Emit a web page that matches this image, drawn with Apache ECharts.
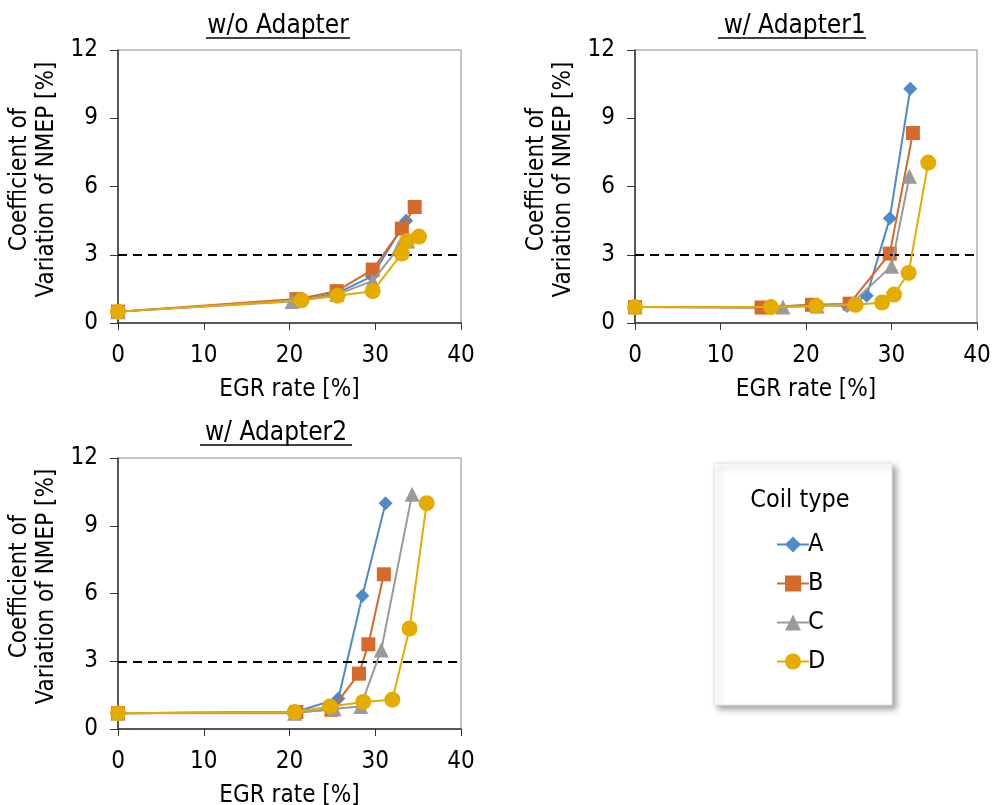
<!DOCTYPE html>
<html>
<head>
<meta charset="utf-8">
<script src="https://cdn.jsdelivr.net/npm/echarts@6/dist/echarts.min.js"></script>
<style>
  html, body { margin: 0; padding: 0; background: #fff; }
  #chart { width: 996px; height: 805px; }
</style>
</head>
<body>
<div id="chart"></div>
<script>
// Coefficient of variation of NMEP vs EGR rate, per coil type, for three adapter setups.
// Each point: [EGR rate %, COV of NMEP %]
const coilNames = ['A', 'B', 'C', 'D'];
const panelTitles = ['w/o Adapter', '\u00a0w/ Adapter1', 'w/ Adapter2'];

const noAdapter_A = [[0, 0.5], [21.0, 1.0], [25.5, 1.3], [29.6, 2.05], [33.6, 4.5]];
const noAdapter_B = [[0, 0.5], [20.8, 1.05], [25.5, 1.4], [29.7, 2.35], [33.1, 4.15], [34.6, 5.1]];
const noAdapter_C = [[0, 0.5], [20.3, 0.95], [25.5, 1.25], [29.7, 1.85], [32.8, 3.35], [33.8, 3.6]];
const noAdapter_D = [[0, 0.5], [21.4, 1.0], [25.6, 1.2], [29.7, 1.4], [33.1, 3.05], [33.7, 3.6], [35.1, 3.8]];

const adapter1_A = [[0, 0.7], [15.0, 0.68], [20.8, 0.8], [24.8, 0.75], [27.1, 1.2], [29.8, 4.6], [32.2, 10.3]];
const adapter1_B = [[0, 0.7], [14.8, 0.68], [20.7, 0.8], [25.1, 0.85], [29.8, 3.05], [32.5, 8.35]];
const adapter1_C = [[0, 0.7], [17.3, 0.7], [21.3, 0.75], [25.3, 0.85], [30.0, 2.5], [32.1, 6.45]];
const adapter1_D = [[0, 0.7], [15.9, 0.7], [21.2, 0.75], [25.8, 0.8], [28.9, 0.9], [30.3, 1.25], [32.0, 2.2], [34.3, 7.05]];

const adapter2_A = [[0, 0.7], [20.7, 0.75], [25.7, 1.35], [28.5, 5.9], [31.2, 10.0]];
const adapter2_B = [[0, 0.7], [20.8, 0.75], [24.9, 0.85], [28.1, 2.45], [29.2, 3.75], [31.0, 6.85]];
const adapter2_C = [[0, 0.7], [20.6, 0.7], [25.2, 0.9], [28.3, 1.0], [30.7, 3.5], [34.3, 10.4]];
const adapter2_D = [[0, 0.7], [20.6, 0.75], [24.7, 1.0], [28.6, 1.2], [32.0, 1.3], [34.0, 4.45], [36.0, 10.0]];

const xTicks = [0, 10, 20, 30, 40];
const yTicks = [0, 3, 6, 9, 12];
const covLimit = 3;

const panels = [
  [noAdapter_A, noAdapter_B, noAdapter_C, noAdapter_D],
  [adapter1_A, adapter1_B, adapter1_C, adapter1_D],
  [adapter2_A, adapter2_B, adapter2_C, adapter2_D]
];

const FONT = "'DejaVu Sans Condensed', 'DejaVu Sans', sans-serif";
const FS = 24;
const FS_TITLE = 26;
const FS_LEGEND = 25;
const colors = ['#4F8AC9', '#D56A2B', '#9A9A9A', '#E5AC00'];
const symbols = ['diamond', 'rect', 'triangle', 'circle'];
const symbolSizes = [14, 14, 15, 16];

const grids = [
  { left: 118, right: 535, top: 50, bottom: 482 },
  { left: 635, right: 19, top: 50, bottom: 482 },
  { left: 118, right: 535, top: 458, bottom: 76 }
];

const xAxes = grids.map((g, i) => ({
  type: 'value', gridIndex: i,
  min: xTicks[0], max: xTicks[xTicks.length - 1], interval: xTicks[1] - xTicks[0],
  name: 'EGR rate [%]', nameLocation: 'middle', nameGap: 55,
  nameTextStyle: { fontFamily: FONT, fontSize: FS, color: '#000' },
  axisLine: { show: true, onZero: false, lineStyle: { color: '#333', width: 1.5 } },
  axisTick: { show: true, inside: false, length: 7, lineStyle: { color: '#333' } },
  axisLabel: { fontFamily: FONT, fontSize: FS, color: '#000', margin: 21 },
  splitLine: { show: false }
}));

const yAxes = grids.map((g, i) => ({
  type: 'value', gridIndex: i,
  min: yTicks[0], max: yTicks[yTicks.length - 1], interval: yTicks[1] - yTicks[0],
  name: 'Coefficient of\nVariation of NMEP [%]', nameLocation: 'middle', nameGap: 58,
  nameTextStyle: { fontFamily: FONT, fontSize: FS, color: '#000', lineHeight: 27, padding: [0, 0, 0, 14] },
  axisLine: { show: true, onZero: false, lineStyle: { color: '#333', width: 1.5 } },
  axisTick: { show: true, inside: false, length: 8, lineStyle: { color: '#333' } },
  axisLabel: { fontFamily: FONT, fontSize: FS, color: '#000', margin: 20 },
  splitLine: { show: false }
}));

const series = [];
panels.forEach((panel, p) => {
  panel.forEach((data, k) => {
    const s = {
      type: 'line', name: coilNames[k], xAxisIndex: p, yAxisIndex: p,
      data: data,
      symbol: symbols[k], symbolSize: symbolSizes[k],
      showAllSymbol: true,
      lineStyle: { color: colors[k], width: 2 },
      itemStyle: { color: colors[k] },
      z: 3 + k,
      animation: false
    };
    if (k === 0) {
      s.markLine = {
        silent: true, symbol: 'none', label: { show: false },
        lineStyle: { color: '#000', type: [9, 6], width: 2 },
        data: [{ yAxis: covLimit }]
      };
    }
    series.push(s);
  });
});

const titleCenters = [[278, 26], [791, 26], [276, 433]];
const titleSpans = [[206, 350], [718, 866], [200, 352]];
const graphics = [];
panelTitles.forEach((t, i) => {
  const [cx, cy] = titleCenters[i];
  graphics.push({
    type: 'text', x: cx, y: cy,
    style: { text: t, font: FS_TITLE + 'px ' + FONT, fill: '#000', align: 'center', verticalAlign: 'middle' }
  });
  graphics.push({
    type: 'line', shape: { x1: titleSpans[i][0], y1: cy + 12, x2: titleSpans[i][1], y2: cy + 12 },
    style: { stroke: '#000', lineWidth: 1.5 }
  });
});
// legend frame with drop shadow
graphics.push({
  type: 'rect', shape: { x: 714, y: 463, width: 178, height: 242 },
  style: { fill: '#fff', stroke: '#e4e4e4', lineWidth: 1, shadowBlur: 6, shadowOffsetX: 4, shadowOffsetY: 4, shadowColor: 'rgba(0,0,0,0.35)' },
  z: -1
});
graphics.push({
  type: 'text', x: 800, y: 500,
  style: { text: 'Coil type', font: FS_LEGEND + 'px ' + FONT, fill: '#000', align: 'center', verticalAlign: 'middle' }
});

const chart = echarts.init(document.getElementById('chart'), null, { renderer: 'canvas' });
chart.setOption({
  backgroundColor: '#fff',
  animation: false,
  grid: grids.map(g => Object.assign({
    show: true, borderColor: '#888', borderWidth: 1, backgroundColor: 'transparent',
    containLabel: false, outerBoundsMode: 'none'
  }, g)),
  xAxis: xAxes,
  yAxis: yAxes,
  legend: {
    data: coilNames,
    orient: 'vertical',
    left: 771, top: 527,
    itemWidth: 32, itemHeight: 20, itemGap: 14,
    textStyle: { fontFamily: FONT, fontSize: FS_LEGEND, color: '#000', padding: [0, 0, 0, -6] }
  },
  graphic: graphics,
  series: series
});
</script>
</body>
</html>
